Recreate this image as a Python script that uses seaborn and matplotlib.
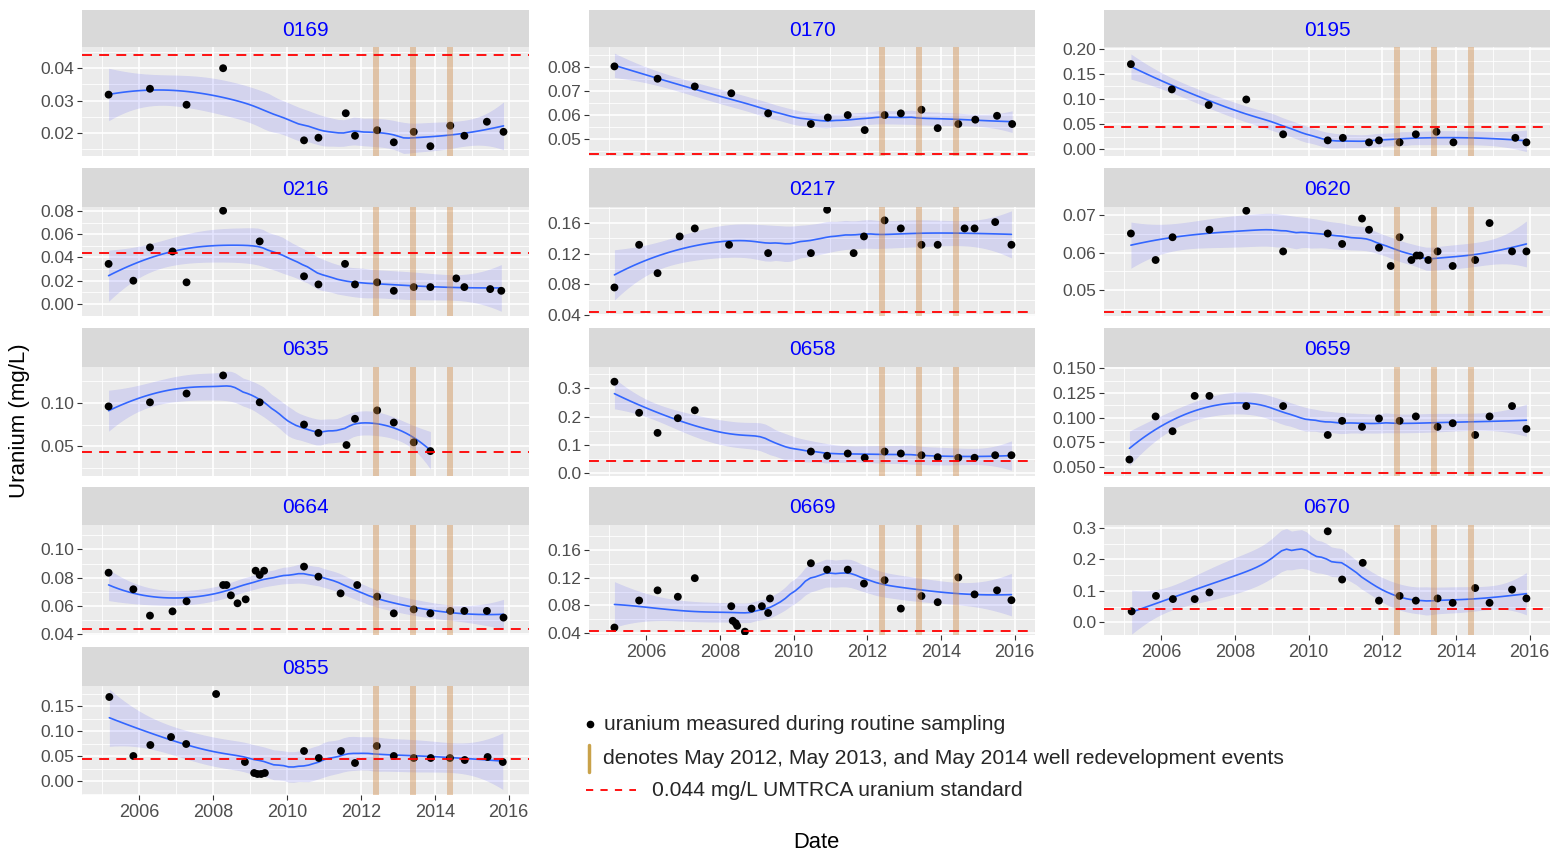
import numpy as np
import matplotlib
matplotlib.use("Agg")
import matplotlib.pyplot as plt
import matplotlib.ticker as mticker
from matplotlib.lines import Line2D
import seaborn as sns

# sampling dates (decimal years) and uranium (mg/L) per well
t_0169 = [2005.17, 2006.29, 2007.28, 2008.27, 2010.46, 2010.85, 2011.59, 2011.84, 2012.44, 2012.89, 2013.43, 2013.88, 2014.42, 2014.80, 2015.41, 2015.86]
u_0169 = [0.0318, 0.0336, 0.0287, 0.0399, 0.0178, 0.0186, 0.0261, 0.0192, 0.0209, 0.0172, 0.0204, 0.0160, 0.0223, 0.0192, 0.0235, 0.0204]

t_0170 = [2005.14, 2006.31, 2007.32, 2008.31, 2009.31, 2010.47, 2010.93, 2011.47, 2011.93, 2012.47, 2012.91, 2013.47, 2013.91, 2014.47, 2014.93, 2015.52, 2015.93]
u_0170 = [0.0801, 0.0750, 0.0718, 0.0690, 0.0607, 0.0563, 0.0590, 0.0600, 0.0538, 0.0600, 0.0607, 0.0622, 0.0546, 0.0563, 0.0581, 0.0597, 0.0563]

t_0195 = [2005.18, 2006.29, 2007.29, 2008.31, 2009.31, 2010.52, 2010.93, 2011.64, 2011.91, 2012.47, 2012.91, 2013.47, 2013.93, 2015.61, 2015.91]
u_0195 = [0.169, 0.119, 0.088, 0.099, 0.030, 0.018, 0.023, 0.014, 0.018, 0.014, 0.030, 0.035, 0.014, 0.023, 0.014]

t_0216 = [2005.17, 2005.84, 2006.29, 2006.90, 2007.28, 2008.27, 2009.26, 2010.46, 2010.85, 2011.57, 2011.84, 2012.44, 2012.89, 2013.43, 2013.88, 2014.58, 2014.80, 2015.50, 2015.80]
u_0216 = [0.0345, 0.0200, 0.0487, 0.0452, 0.0186, 0.0803, 0.0539, 0.0238, 0.0168, 0.0345, 0.0168, 0.0186, 0.0113, 0.0145, 0.0145, 0.0220, 0.0145, 0.0128, 0.0113]

t_0217 = [2005.14, 2005.81, 2006.31, 2006.91, 2007.32, 2008.25, 2009.31, 2010.47, 2010.91, 2011.63, 2011.91, 2012.47, 2012.91, 2013.47, 2013.91, 2014.64, 2014.91, 2015.47, 2015.91]
u_0217 = [0.0758, 0.1316, 0.0945, 0.1425, 0.1530, 0.1316, 0.1207, 0.1207, 0.1774, 0.1207, 0.1425, 0.1635, 0.1530, 0.1316, 0.1316, 0.1530, 0.1530, 0.1613, 0.1316]

t_0620 = [2005.18, 2005.85, 2006.31, 2007.31, 2008.31, 2009.31, 2010.52, 2010.91, 2011.45, 2011.64, 2011.91, 2012.23, 2012.47, 2012.79, 2012.93, 2013.02, 2013.25, 2013.50, 2013.91, 2014.52, 2014.91, 2015.52, 2015.91]
u_0620 = [0.0651, 0.0580, 0.0641, 0.0661, 0.0712, 0.0603, 0.0651, 0.0623, 0.0691, 0.0661, 0.0613, 0.0564, 0.0641, 0.0580, 0.0592, 0.0592, 0.0580, 0.0603, 0.0564, 0.0580, 0.0679, 0.0603, 0.0603]

t_0635 = [2005.17, 2006.29, 2007.28, 2008.27, 2009.26, 2010.46, 2010.85, 2011.61, 2011.84, 2012.44, 2012.89, 2013.43, 2013.88]
u_0635 = [0.0961, 0.1008, 0.1109, 0.1318, 0.1008, 0.0752, 0.0655, 0.0516, 0.0818, 0.0915, 0.0775, 0.0547, 0.0446]

t_0658 = [2005.14, 2005.81, 2006.31, 2006.86, 2007.32, 2010.47, 2010.91, 2011.47, 2011.93, 2012.47, 2012.91, 2013.47, 2013.91, 2014.47, 2014.91, 2015.47, 2015.91]
u_0658 = [0.324, 0.214, 0.143, 0.195, 0.223, 0.077, 0.062, 0.070, 0.055, 0.077, 0.070, 0.064, 0.057, 0.055, 0.055, 0.064, 0.064]

t_0659 = [2005.14, 2005.85, 2006.31, 2006.91, 2007.31, 2008.31, 2009.31, 2010.52, 2010.91, 2011.45, 2011.91, 2012.47, 2012.91, 2013.50, 2013.91, 2014.52, 2014.91, 2015.52, 2015.91]
u_0659 = [0.0575, 0.1012, 0.0862, 0.1220, 0.1220, 0.1117, 0.1117, 0.0824, 0.0967, 0.0906, 0.0991, 0.0967, 0.1012, 0.0906, 0.0943, 0.0824, 0.1012, 0.1117, 0.0885]

t_0664 = [2005.17, 2005.84, 2006.29, 2006.90, 2007.28, 2008.27, 2008.36, 2008.48, 2008.66, 2008.88, 2009.15, 2009.26, 2009.38, 2010.46, 2010.85, 2011.45, 2011.90, 2012.44, 2012.89, 2013.43, 2013.88, 2014.42, 2014.80, 2015.41, 2015.86]
u_0664 = [0.0835, 0.0718, 0.0532, 0.0562, 0.0633, 0.0748, 0.0748, 0.0675, 0.0619, 0.0647, 0.0849, 0.0819, 0.0849, 0.0878, 0.0807, 0.0689, 0.0748, 0.0666, 0.0548, 0.0576, 0.0548, 0.0565, 0.0565, 0.0565, 0.0518]

t_0669 = [2005.14, 2005.81, 2006.31, 2006.86, 2007.32, 2008.31, 2008.35, 2008.43, 2008.47, 2008.68, 2008.86, 2009.14, 2009.31, 2009.36, 2010.47, 2010.91, 2011.47, 2011.91, 2012.47, 2012.91, 2013.47, 2013.91, 2014.47, 2014.91, 2015.52, 2015.91]
u_0669 = [0.0483, 0.0871, 0.1017, 0.0925, 0.1192, 0.0789, 0.0580, 0.0546, 0.0507, 0.0424, 0.0755, 0.0789, 0.0692, 0.0900, 0.1406, 0.1314, 0.1314, 0.1114, 0.1163, 0.0755, 0.0935, 0.0847, 0.1202, 0.0959, 0.1017, 0.0876]

t_0670 = [2005.20, 2005.86, 2006.32, 2006.91, 2007.31, 2010.52, 2010.91, 2011.47, 2011.91, 2012.47, 2012.91, 2013.50, 2013.91, 2014.52, 2014.91, 2015.52, 2015.91]
u_0670 = [0.035, 0.084, 0.074, 0.074, 0.095, 0.289, 0.136, 0.189, 0.069, 0.084, 0.069, 0.076, 0.062, 0.109, 0.062, 0.104, 0.076]

t_0855 = [2005.19, 2005.84, 2006.30, 2006.86, 2007.27, 2008.08, 2008.86, 2009.11, 2009.20, 2009.30, 2009.40, 2010.46, 2010.86, 2011.46, 2011.84, 2012.43, 2012.89, 2013.43, 2013.89, 2014.41, 2014.81, 2015.43, 2015.84]
u_0855 = [0.168, 0.050, 0.072, 0.088, 0.074, 0.174, 0.038, 0.016, 0.014, 0.014, 0.016, 0.060, 0.046, 0.060, 0.036, 0.070, 0.050, 0.046, 0.046, 0.046, 0.042, 0.048, 0.038]

wells = ["0169", "0170", "0195", "0216", "0217", "0620", "0635",
         "0658", "0659", "0664", "0669", "0670", "0855"]

# y axis ranges, tick steps and decimals per facet (free scales)
y_limits = [(0.0130, 0.0464), (0.0431, 0.0881), (-0.013, 0.203), (-0.0104, 0.0835),
            (0.0385, 0.181), (0.0430, 0.0722), (0.0159, 0.1415), (-0.0095, 0.376),
            (0.0408, 0.1513), (0.0395, 0.1172), (0.0376, 0.1955), (-0.040, 0.309),
            (-0.028, 0.19)]
y_steps = [0.01, 0.01, 0.05, 0.02, 0.04, 0.01, 0.05, 0.1, 0.025, 0.02, 0.04, 0.1, 0.05]
y_decimals = [2, 2, 2, 2, 2, 2, 2, 1, 3, 2, 2, 1, 2]

redevelopment = [2012.41, 2013.41, 2014.41]
standard = 0.044

series = {
    "0169": (t_0169, u_0169), "0170": (t_0170, u_0170), "0195": (t_0195, u_0195),
    "0216": (t_0216, u_0216), "0217": (t_0217, u_0217), "0620": (t_0620, u_0620),
    "0635": (t_0635, u_0635), "0658": (t_0658, u_0658), "0659": (t_0659, u_0659),
    "0664": (t_0664, u_0664), "0669": (t_0669, u_0669), "0670": (t_0670, u_0670),
    "0855": (t_0855, u_0855),
}


def loess(x, y, grid, span=0.75):
    # local quadratic fit with tricube weights, like R's loess default
    x = np.asarray(x, float)
    y = np.asarray(y, float)
    n = len(x)
    q = int(np.floor(span * n))

    def row(x0):
        d = np.abs(x - x0)
        h = np.sort(d)[q - 1] * 1.0001
        w = np.clip(1 - (d / h) ** 3, 0, None) ** 3
        X = np.column_stack([np.ones(n), x - x0, (x - x0) ** 2])
        A = X.T @ (w[:, None] * X)
        return np.linalg.solve(A, (X * w[:, None]).T)[0]

    L = np.array([row(v) for v in x])
    res = y - L @ y
    M = np.eye(n) - L
    sigma = np.sqrt(res @ res / np.trace(M.T @ M))
    G = np.array([row(v) for v in grid])
    return G @ y, sigma * np.sqrt((G ** 2).sum(axis=1))


sns.set_theme(style="darkgrid", rc={"axes.facecolor": "#EBEBEB", "grid.color": "white"})
plt.rcParams["font.family"] = ["Liberation Sans", "DejaVu Sans"]

W, H = 1558, 856
fig = plt.figure(figsize=(W / 100, H / 100), dpi=100)

cols = [(82, 529), (589, 1035), (1104, 1550)]
rows = [(10, 47, 156), (168, 207, 316), (328, 367, 476), (487, 525, 635), (647, 686, 795)]
bottom_panels = {"0855", "0669", "0670"}

for i, well in enumerate(wells):
    r, c = divmod(i, 3)
    x0, x1 = cols[c]
    s0, p0, p1 = rows[r]
    ax = fig.add_axes([x0 / W, 1 - p1 / H, (x1 - x0) / W, (p1 - p0) / H])
    sax = fig.add_axes([x0 / W, 1 - p0 / H, (x1 - x0) / W, (p0 - s0) / H])
    sax.set_facecolor("#D9D9D9")
    sax.set_xticks([])
    sax.set_yticks([])
    sax.grid(False)
    for sp in sax.spines.values():
        sp.set_visible(False)
    sax.text(0.5, 0.45, well, color="blue", fontsize=15, ha="center", va="center",
             transform=sax.transAxes)

    t, u = series[well]
    grid = np.linspace(min(t), max(t), 80)
    fit, se = loess(t, u, grid)
    ax.fill_between(grid, fit - 2.1 * se, fit + 2.1 * se, color="blue", alpha=0.1,
                    lw=0, zorder=2)
    sns.lineplot(x=grid, y=fit, color="#3366FF", lw=1.2, ax=ax, zorder=3)
    sns.scatterplot(x=t, y=u, color="black", s=32, edgecolor="none", ax=ax, zorder=4)
    for d in redevelopment:
        ax.axvline(d, color="#CD853F", alpha=0.4, lw=4.3, zorder=5)
    ax.axhline(standard, color="red", ls=(0, (5.5, 4)), lw=1.3, zorder=6)

    ax.set_xlim(2004.45, 2016.55)
    ax.set_ylim(*y_limits[i])
    step = y_steps[i]
    ax.yaxis.set_major_locator(mticker.MultipleLocator(step))
    ax.yaxis.set_minor_locator(mticker.MultipleLocator(step / 2))
    ax.yaxis.set_major_formatter(mticker.FormatStrFormatter(f"%.{y_decimals[i]}f"))
    ax.xaxis.set_major_locator(mticker.MultipleLocator(2))
    ax.xaxis.set_minor_locator(mticker.MultipleLocator(1))
    ax.xaxis.set_major_formatter(mticker.FormatStrFormatter("%d"))
    ax.grid(which="major", color="white", lw=1.2)
    ax.grid(which="minor", color="white", lw=0.6)
    for sp in ax.spines.values():
        sp.set_visible(False)
    ax.tick_params(axis="y", which="major", left=True, length=3.5, width=0.8,
                   color="#333333", labelsize=12.5, labelcolor="#4D4D4D", pad=2)
    ax.tick_params(which="minor", length=0)
    if well in bottom_panels:
        ax.tick_params(axis="x", which="major", bottom=True, length=3.5, width=0.8,
                       color="#333333", labelsize=13, labelcolor="#4D4D4D", pad=3)
    else:
        ax.tick_params(axis="x", which="major", bottom=False, labelbottom=False)
    ax.set_xlabel("")
    ax.set_ylabel("")

# axis titles
fig.text(20 / W, 1 - 421 / H, "Uranium (mg/L)", rotation=90, ha="center", va="center",
         fontsize=16, color="black")
fig.text(816 / W, 1 - 842 / H, "Date", ha="center", va="center", fontsize=15.8, color="black")

# hand-made legend
fig.add_artist(Line2D([590 / W], [1 - 724 / H], marker="o", ms=4.5, color="black", lw=0))
fig.text(604 / W, 1 - 724 / H, "uranium measured during routine sampling",
         ha="left", va="center", fontsize=15.2)
fig.add_artist(Line2D([589 / W, 589 / W], [1 - 745 / H, 1 - 772 / H], color="#C9A24A", lw=2.5))
fig.text(603 / W, 1 - 759 / H,
         "denotes May 2012, May 2013, and May 2014 well redevelopment events",
         ha="left", va="center", fontsize=15.2)
fig.add_artist(Line2D([586 / W, 636 / W], [1 - 790 / H, 1 - 790 / H], color="red",
                      ls=(0, (4, 4)), lw=1.3))
fig.text(652 / W, 1 - 790 / H, "0.044 mg/L UMTRCA uranium standard",
         ha="left", va="center", fontsize=15.2)

fig.savefig("out.png", dpi=100, facecolor="white")
